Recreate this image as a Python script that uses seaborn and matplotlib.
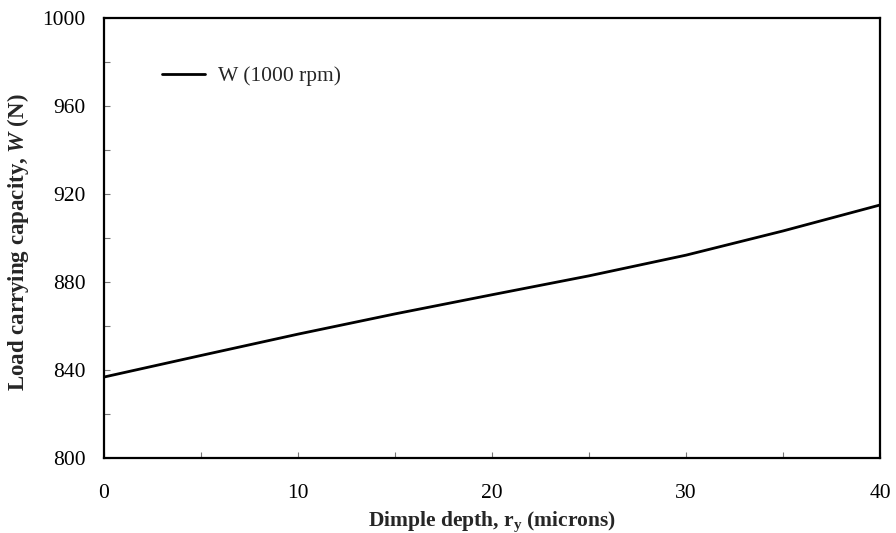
import matplotlib
matplotlib.use("Agg")
import matplotlib.pyplot as plt
import seaborn as sns
import pandas as pd
from matplotlib.ticker import MultipleLocator

# Data
dimple_depth = [0, 5, 10, 15, 20, 25, 30, 35, 40]
load_capacity = [836.8, 846.6, 856.3, 865.5, 874.2, 882.8, 892.2, 903.2, 915.0]
series_label = "W (1000 rpm)"
x_label = r"Dimple depth, $\mathregular{r_{y}}$ (microns)"
y_label = r"Load carrying capacity, $\mathit{W}$ (N)"

sns.set_theme(style="white")
plt.rcParams["font.family"] = ["Liberation Serif", "DejaVu Serif"]
plt.rcParams["mathtext.fontset"] = "custom"
plt.rcParams["mathtext.rm"] = "Liberation Serif"
plt.rcParams["mathtext.it"] = "Liberation Serif:italic:bold"

df = pd.DataFrame({"x": dimple_depth, "y": load_capacity, "series": series_label})

fig = plt.figure(figsize=(8.96, 5.33), dpi=100)
ax = fig.add_axes([104 / 896, 1 - 458 / 533, 776 / 896, 440 / 533])

sns.lineplot(data=df, x="x", y="y", hue="series", palette=["black"], linewidth=2.0, ax=ax)

ax.set_xlim(0, 40)
ax.set_ylim(800, 1000)
ax.xaxis.set_major_locator(MultipleLocator(10))
ax.xaxis.set_minor_locator(MultipleLocator(5))
ax.yaxis.set_major_locator(MultipleLocator(40))
ax.yaxis.set_minor_locator(MultipleLocator(20))

for s in ax.spines.values():
    s.set_color("black")
    s.set_linewidth(1.6)

ax.tick_params(axis="both", which="both", direction="in", length=4, width=0.8,
               color="#777777", labelcolor="black", labelsize=15.5)
ax.tick_params(axis="x", which="both", pad=19, bottom=True)
ax.tick_params(axis="y", which="both", pad=13.5, left=True)

ax.set_xlabel(x_label, fontsize=15.5, fontweight="bold")
ax.set_ylabel(y_label, fontsize=16.5, fontweight="bold")
ax.xaxis.set_label_coords(0.5, -(510 - 458) / 440)
ax.xaxis.label.set_va("top")
ax.yaxis.set_label_coords(-(104 - 31) / 776, 0.49)

leg = ax.legend(loc="center left", bbox_to_anchor=(0.064, 0.868), frameon=False,
                fontsize=15.5, handlelength=2.0, handletextpad=0.6, borderaxespad=0)
for h in leg.get_lines():
    h.set_linewidth(2.0)

fig.savefig("out.png", dpi=100)
